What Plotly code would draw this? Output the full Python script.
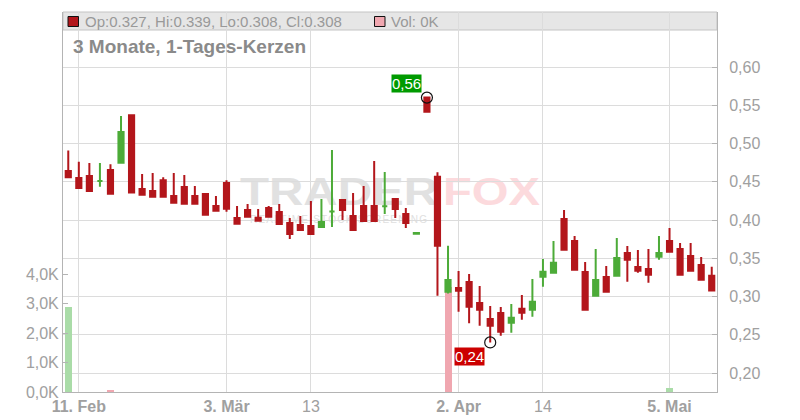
import base64
import plotly.graph_objects as go

# ---------------- data ----------------
dates = [
    "2025-02-10", "2025-02-11", "2025-02-12", "2025-02-13", "2025-02-14",
    "2025-02-17", "2025-02-18", "2025-02-19", "2025-02-20", "2025-02-21",
    "2025-02-24", "2025-02-25", "2025-02-26", "2025-02-27", "2025-02-28",
    "2025-03-03", "2025-03-04", "2025-03-05", "2025-03-06", "2025-03-07",
    "2025-03-10", "2025-03-11", "2025-03-12", "2025-03-13", "2025-03-14",
    "2025-03-17", "2025-03-18", "2025-03-19", "2025-03-20", "2025-03-21",
    "2025-03-24", "2025-03-25", "2025-03-26", "2025-03-27", "2025-03-28",
    "2025-03-31", "2025-04-01", "2025-04-02", "2025-04-03", "2025-04-04",
    "2025-04-07", "2025-04-08", "2025-04-09", "2025-04-10", "2025-04-11",
    "2025-04-14", "2025-04-15", "2025-04-16", "2025-04-17", "2025-04-22",
    "2025-04-23", "2025-04-24", "2025-04-25", "2025-04-28", "2025-04-29",
    "2025-04-30", "2025-05-02", "2025-05-05", "2025-05-06", "2025-05-07",
    "2025-05-08", "2025-05-09",
]
opens = [
    0.464, 0.455, 0.4575, 0.451, 0.4654, 0.475, 0.537, 0.4405, 0.438, 0.452,
    0.4314, 0.4431, 0.4314, 0.434, 0.4183, 0.4484, 0.4026, 0.413, 0.403, 0.4157,
    0.4105, 0.396, 0.3935, 0.3922, 0.3908, 0.411, 0.4261, 0.4052, 0.4183, 0.4183,
    0.418, 0.4274, 0.4078, 0.382, 0.56, 0.4566, 0.3063, 0.3111, 0.319, 0.2915,
    0.2706, 0.2784, 0.2657, 0.2841, 0.2828, 0.3259, 0.3311, 0.4013, 0.3725, 0.332,
    0.301, 0.3255, 0.3272, 0.3569, 0.3386, 0.336, 0.352, 0.3725, 0.3621, 0.3529,
    0.3412, 0.327,
]
highs = [
    0.491, 0.476, 0.4745, 0.4745, 0.473, 0.536, 0.537, 0.460, 0.4614, 0.456,
    0.4614, 0.4588, 0.4444, 0.434, 0.4314, 0.452, 0.4183, 0.4209, 0.4144, 0.4183,
    0.4209, 0.4026, 0.4052, 0.4248, 0.4274, 0.4915, 0.4261, 0.4353, 0.4444, 0.4771,
    0.4627, 0.4288, 0.4157, 0.383, 0.56, 0.4623, 0.3664, 0.3333, 0.3294, 0.3137,
    0.2876, 0.2863, 0.2902, 0.302, 0.3229, 0.349, 0.3725, 0.4131, 0.3791, 0.3451,
    0.3621, 0.3399, 0.3765, 0.366, 0.3608, 0.3621, 0.3791, 0.3895, 0.370, 0.370,
    0.3516, 0.339,
]
lows = [
    0.456, 0.442, 0.438, 0.4435, 0.4344, 0.475, 0.436, 0.433, 0.4305, 0.4305,
    0.4226, 0.4213, 0.4213, 0.407, 0.4122, 0.4109, 0.3952, 0.4043, 0.399, 0.4043,
    0.3935, 0.3752, 0.3869, 0.3817, 0.3895, 0.3908, 0.400, 0.3869, 0.3987, 0.3987,
    0.4078, 0.4026, 0.3895, 0.382, 0.5416, 0.301, 0.304, 0.280, 0.265, 0.2618,
    0.240, 0.2488, 0.2527, 0.2697, 0.2736, 0.3128, 0.3311, 0.3612, 0.335, 0.2828,
    0.301, 0.3063, 0.3272, 0.3193, 0.3311, 0.318, 0.348, 0.3586, 0.3285, 0.3337,
    0.322, 0.308,
]
closes = [
    0.456, 0.442, 0.438, 0.451, 0.4344, 0.515, 0.436, 0.433, 0.4305, 0.4305,
    0.4226, 0.4213, 0.4213, 0.407, 0.4122, 0.4148, 0.3952, 0.4043, 0.399, 0.4043,
    0.3948, 0.3817, 0.3869, 0.3817, 0.3974, 0.411, 0.413, 0.3869, 0.3987, 0.3987,
    0.418, 0.4144, 0.396, 0.383, 0.5416, 0.3664, 0.3216, 0.3076, 0.2867, 0.2828,
    0.2618, 0.254, 0.2723, 0.2789, 0.2932, 0.3324, 0.3442, 0.3612, 0.335, 0.2828,
    0.3216, 0.3063, 0.3503, 0.348, 0.3337, 0.3285, 0.3569, 0.3586, 0.3285, 0.3337,
    0.322, 0.308,
]
volumes = [0] * len(dates)
volumes[dates.index("2025-02-10")] = 2880
volumes[dates.index("2025-02-14")] = 50
volumes[dates.index("2025-04-01")] = 3580
volumes[dates.index("2025-05-05")] = 150

x_tick_dates = ["2025-02-11", "2025-03-03", "2025-03-13", "2025-04-02", "2025-04-14", "2025-05-05"]
x_tick_text = ["<b>11. Feb</b>", "<b>3. Mär</b>", "13", "<b>2. Apr</b>", "14", "<b>5. Mai</b>"]
price_ticks = [0.20, 0.25, 0.30, 0.35, 0.40, 0.45, 0.50, 0.55, 0.60]
vol_ticks = [0, 1000, 2000, 3000, 4000]

# ---------------- styling ----------------
RED = "#b3161b"
GREEN = "#4cab38"
VOL_RED = "#f0a7b0"
VOL_GREEN = "#aadca8"
GRID = "#dcdcdc"
AXIS = "#b4b4b4"
TXT = "#a0a0a0"
FONT = "Liberation Sans, Arial, sans-serif"

OFF = 8                      # page body margin of the html page
W, H = 800 - OFF, 420 - OFF
ML, MR, MT, MB = 63 - OFF, 83, 12 - OFF, 28
PW, PH = W - ML - MR, H - MT - MB


def px_x(px):                # page pixel -> paper coordinate
    return (px - OFF - ML) / PW


def px_y(py):
    return (H - MB - (py - OFF)) / PH


vol_colors = []
for i, c in enumerate(closes):
    if i == 0 or c >= closes[i - 1]:
        vol_colors.append(VOL_GREEN)
    else:
        vol_colors.append(VOL_RED)

fig = go.Figure()

fig.add_trace(go.Bar(
    x=dates, y=volumes, marker_color=vol_colors, marker_line_width=0,
    width=0.66, yaxis="y", hoverinfo="skip",
))

fig.add_trace(go.Candlestick(
    x=dates, open=opens, high=highs, low=lows, close=closes,
    increasing=dict(line=dict(color=GREEN, width=2), fillcolor=GREEN),
    decreasing=dict(line=dict(color=RED, width=2), fillcolor=RED),
    yaxis="y2",
))

# extremes markers
i_hi = max(range(len(highs)), key=lambda i: highs[i])
i_lo = min(range(len(lows)), key=lambda i: lows[i])
fig.add_trace(go.Scatter(
    x=[dates[i_hi], dates[i_lo]], y=[highs[i_hi], lows[i_lo]],
    mode="markers", yaxis="y2",
    marker=dict(symbol="circle-open", size=11, color="#111111", line=dict(width=1.2)),
    hoverinfo="skip",
))

# watermark as svg image (plot-area coordinates)
svg = f'''<svg xmlns="http://www.w3.org/2000/svg" width="{PW}" height="{PH}" viewBox="0 0 {PW} {PH}">
<text x="177" y="193" font-family="Liberation Sans, Arial" font-weight="bold" font-size="39"
 fill="#e1e1e1" textLength="198" lengthAdjust="spacingAndGlyphs">TRADER</text>
<text x="380" y="193" font-family="Liberation Sans, Arial" font-weight="bold" font-size="39"
 fill="#fcdadd" textLength="97" lengthAdjust="spacingAndGlyphs">FOX</text>
<text x="187" y="211" font-family="Liberation Sans, Arial" font-size="10"
 fill="#e0e0e0" textLength="177" lengthAdjust="spacing">REALTIME STOCK SCREENING</text>
</svg>'''
src = "data:image/svg+xml;base64," + base64.b64encode(svg.encode("utf-8")).decode("ascii")

shapes = [
    # header band
    dict(type="rect", xref="paper", yref="paper", x0=0, x1=1, y0=px_y(30), y1=1,
         fillcolor="#e6e6e6", line=dict(color="#c4c4c4", width=1), layer="below"),
    # legend squares
    dict(type="rect", xref="paper", yref="paper", x0=px_x(68), x1=px_x(78.5),
         y0=px_y(26.5), y1=px_y(16.5), fillcolor=RED, line=dict(color="#111111", width=1)),
    dict(type="rect", xref="paper", yref="paper", x0=px_x(374.5), x1=px_x(385),
         y0=px_y(26.5), y1=px_y(16.5), fillcolor=VOL_RED, line=dict(color="#111111", width=1)),
]


def fmt(v):
    return f"{v:.2f}".replace(".", ",")


annotations = [
    dict(xref="paper", yref="paper", x=px_x(83), y=px_y(21.5), xanchor="left", yanchor="middle",
         showarrow=False, font=dict(size=15, color="#999999", family=FONT),
         text=f"Op:{opens[-1]:.3f}, Hi:{highs[-1]:.3f}, Lo:{lows[-1]:.3f}, Cl:{closes[-1]:.3f}"),
    dict(xref="paper", yref="paper", x=px_x(389), y=px_y(21.5), xanchor="left", yanchor="middle",
         showarrow=False, font=dict(size=15, color="#999999", family=FONT),
         text=f"Vol: {volumes[-1] // 1000}K"),
    dict(xref="paper", yref="paper", x=px_x(71), y=px_y(47), xanchor="left", yanchor="middle",
         showarrow=False, font=dict(size=19, color="#8a8a8a", family=FONT),
         text="<b>3 Monate, 1-Tages-Kerzen</b>"),
    dict(xref="x", yref="y2", x=dates[i_hi], y=highs[i_hi], xshift=-20, yshift=14,
         showarrow=False, text=fmt(highs[i_hi]), bgcolor="#009a00", borderpad=0,
         font=dict(size=15, color="white", family=FONT)),
    dict(xref="x", yref="y2", x=dates[i_lo], y=lows[i_lo], xshift=-20.5, yshift=-14.5,
         showarrow=False, text=fmt(lows[i_lo]), bgcolor="#cc0000", borderpad=0,
         font=dict(size=15, color="white", family=FONT)),
]

fig.update_layout(
    width=W, height=H,
    margin=dict(l=ML, r=MR, t=MT, b=MB, autoexpand=False),
    paper_bgcolor="white", plot_bgcolor="white",
    showlegend=False,
    font=dict(family=FONT, color=TXT),
    bargap=0,
    xaxis=dict(
        type="category", categoryorder="array", categoryarray=dates,
        range=[-0.5, len(dates) - 0.5], automargin=False,
        tickvals=x_tick_dates, ticktext=x_tick_text,
        showgrid=True, gridcolor=GRID, gridwidth=1,
        showline=True, linecolor=AXIS, linewidth=1,
        ticks="", tickfont=dict(size=16, color=TXT),
        rangeslider=dict(visible=False), fixedrange=True,
    ),
    yaxis=dict(
        side="left", range=[0, 12930], automargin=False,
        tickvals=vol_ticks, ticktext=[f"{v / 1000:.1f}K".replace(".", ",") for v in vol_ticks],
        showgrid=False, zeroline=False,
        showline=True, linecolor=AXIS, linewidth=1,
        ticks="inside", ticklen=5, tickcolor=AXIS,
        tickfont=dict(size=16, color=TXT),
    ),
    yaxis2=dict(
        overlaying="y", side="right", range=[0.1752, 0.6719], automargin=False,
        tickvals=price_ticks, ticktext=[fmt(v) for v in price_ticks],
        showgrid=True, gridcolor=GRID, gridwidth=1, zeroline=False,
        showline=True, linecolor=AXIS, linewidth=1,
        ticks="inside", ticklen=5, tickcolor=AXIS,
        ticklabelstandoff=8,
        tickfont=dict(size=16, color=TXT),
    ),
    shapes=shapes,
    annotations=annotations,
    images=[dict(source=src, xref="paper", yref="paper", x=0, y=1, sizex=1, sizey=1,
                 xanchor="left", yanchor="top", sizing="stretch", layer="below")],
)

fig.write_html("out.html")
